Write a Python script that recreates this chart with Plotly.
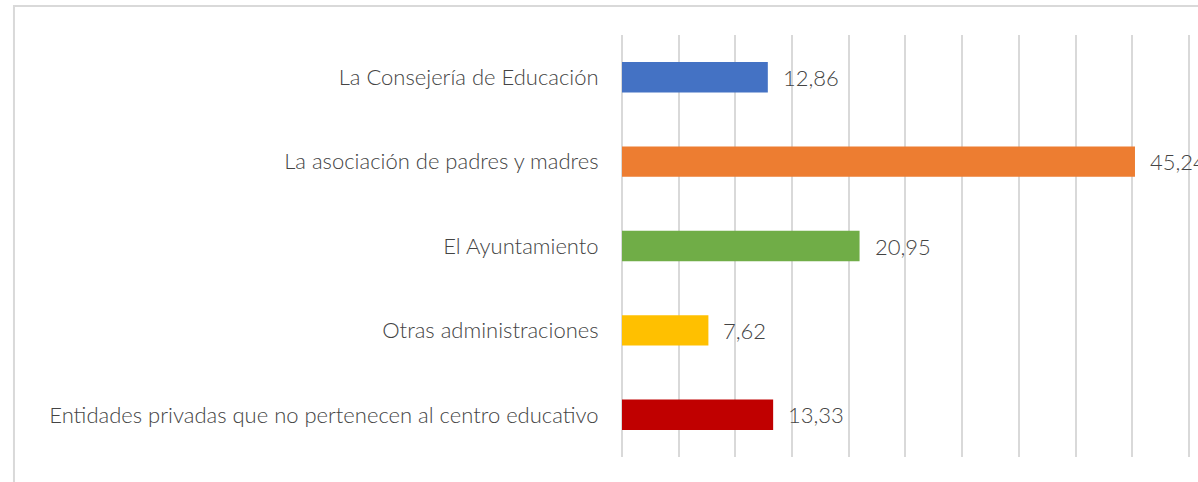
import plotly.graph_objects as go

categories = [
    "La Consejería de Educación",
    "La asociación de padres y madres",
    "El Ayuntamiento",
    "Otras administraciones",
    "Entidades privadas que no pertenecen al centro educativo",
]
values = [12.86, 45.24, 20.95, 7.62, 13.33]
colors = ["#4472C4", "#ED7D31", "#70AD47", "#FFC000", "#C00000"]
value_labels = ["12,86", "45,24", "20,95", "7,62", "13,33"]

FONT = "Lato"
TEXT_COLOR = "#444444"
FS = 22

fig = go.Figure()
fig.add_trace(go.Bar(
    x=values,
    y=categories,
    orientation="h",
    marker=dict(color=colors, line=dict(width=0)),
    width=0.36,
    hoverinfo="skip",
))

for cat, v, lab in zip(categories, values, value_labels):
    fig.add_annotation(
        x=v, y=cat, xref="x", yref="y",
        text=lab, showarrow=False,
        xanchor="left", xshift=13,
        font=dict(family=FONT, size=FS, color=TEXT_COLOR, weight=300),
    )

# outer chart border (light gray)
fig.add_shape(
    type="rect", xref="paper", yref="paper",
    x0=-1.0686, x1=1.2, y0=-0.2, y1=1.0687,
    line=dict(color="#D9D9D9", width=2),
    fillcolor="rgba(0,0,0,0)", layer="below",
)

fig.update_layout(
    width=1198, height=482,
    margin=dict(l=622, r=7, t=35, b=25),
    paper_bgcolor="white", plot_bgcolor="white",
    showlegend=False,
    separators=",.",
    font=dict(family=FONT, color=TEXT_COLOR),
    xaxis=dict(
        range=[0, 50.18], tick0=0, dtick=5, showgrid=True,
        gridcolor="#D9D9D9", gridwidth=2,
        zeroline=True, zerolinecolor="#D9D9D9", zerolinewidth=2,
        showticklabels=False, showline=False, ticks="",
        fixedrange=True,
    ),
    yaxis=dict(
        autorange="reversed", showgrid=False, zeroline=False, showline=False,
        ticks="outside", ticklen=18, tickcolor="rgba(0,0,0,0)",
        tickfont=dict(family=FONT, size=FS, color=TEXT_COLOR, weight=300),
        fixedrange=True, automargin=False,
    ),
)

fig.write_html(
    "out.html",
    config={"displayModeBar": False, "staticPlot": True},
    post_script="document.body.style.margin='0';document.body.style.overflow='hidden';",
)
